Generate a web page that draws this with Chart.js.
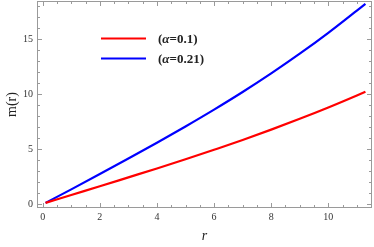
<!DOCTYPE html>
<html>
<head>
<meta charset="utf-8">
<script src="https://cdn.jsdelivr.net/npm/chart.js@4/dist/chart.umd.min.js"></script>
<style>
html,body{margin:0;padding:0;background:#fff;}
#wrap{width:374px;height:247px;position:relative;}
</style>
</head>
<body>
<div id="wrap"><canvas id="c" width="374" height="247"></canvas></div>
<script>
const rValues = [0.1, 1, 2, 3, 4, 5, 6, 7, 8, 9, 10, 11, 11.3];
const mAlpha01 = [0.1, 0.82, 1.61, 2.42, 3.23, 4.06, 4.93, 5.82, 6.76, 7.74, 8.77, 9.86, 10.2];
const mAlpha021 = [0.1, 1.33, 2.72, 4.13, 5.57, 7.05, 8.58, 10.18, 11.87, 13.66, 15.56, 17.58, 18.18];
const seriesLabels = ["(\u03b1=0.1)", "(\u03b1=0.21)"];
const xTicks = [0, 2, 4, 6, 8, 10];
const yTicks = [0, 5, 10, 15];
const xMinorStep = 0.5;
const yMinorStep = 1;

const serif = "'Liberation Serif', 'DejaVu Serif', serif";

function toPts(xs, ys){ return xs.map((x,i)=>({x:x, y:ys[i]})); }

const framePlugin = {
  id: 'frame',
  afterDatasetsDraw(chart){
    const ctx = chart.ctx, a = chart.chartArea;
    const xs = chart.scales.x, ys = chart.scales.y;
    ctx.save();
    ctx.strokeStyle = '#9a9a9a';
    ctx.lineWidth = 1;
    const L = Math.round(a.left)+0.5, R = Math.round(a.right)-0.5, T = Math.round(a.top)+0.5, B = Math.round(a.bottom)-0.5;
    ctx.strokeRect(L, T, R-L, B-T);
    ctx.beginPath();
    for (let v = Math.ceil(xs.min/xMinorStep)*xMinorStep; v <= xs.max+1e-9; v += xMinorStep){
      const px = Math.round(xs.getPixelForValue(v))+0.5;
      const major = xTicks.some(t=>Math.abs(t-v)<1e-6);
      const len = major ? 4.5 : 2.5;
      ctx.moveTo(px, B); ctx.lineTo(px, B-len);
      ctx.moveTo(px, T); ctx.lineTo(px, T+len);
    }
    for (let v = Math.ceil(ys.min/yMinorStep)*yMinorStep; v <= ys.max+1e-9; v += yMinorStep){
      const py = Math.round(ys.getPixelForValue(v))+0.5;
      const major = yTicks.some(t=>Math.abs(t-v)<1e-6);
      const len = major ? 4.5 : 2.5;
      ctx.moveTo(L, py); ctx.lineTo(L+len, py);
      ctx.moveTo(R, py); ctx.lineTo(R-len, py);
    }
    ctx.stroke();
    ctx.restore();
  }
};

const legendPlugin = {
  id: 'inlegend',
  afterDatasetsDraw(chart){
    const ctx = chart.ctx;
    ctx.save();
    chart.data.datasets.forEach((ds, i) => {
      const y = 38.5 + i*20;
      const x0 = 101, x1 = 146, tx = 158;
      ctx.strokeStyle = ds.borderColor;
      ctx.lineWidth = 2.2;
      ctx.beginPath(); ctx.moveTo(x0, y); ctx.lineTo(x1, y); ctx.stroke();
      ctx.fillStyle = '#222';
      ctx.textBaseline = 'middle';
      const lbl = ds.label;
      const parts = [[lbl.slice(0,1), 'bold 13px '+serif], [lbl.slice(1,2), 'italic bold 13px '+serif], [lbl.slice(2), 'bold 13px '+serif]];
      let cx = tx;
      parts.forEach(([t,f]) => { ctx.font = f; ctx.fillText(t, cx, y+1); cx += ctx.measureText(t).width; });
    });
    ctx.restore();
  }
};

new Chart(document.getElementById('c'), {
  type: 'line',
  data: {
    datasets: [
      { label: seriesLabels[0], data: toPts(rValues, mAlpha01), borderColor: '#ff0000', borderWidth: 2.2, pointRadius: 0, cubicInterpolationMode: 'monotone', fill: false },
      { label: seriesLabels[1], data: toPts(rValues, mAlpha021), borderColor: '#0000ff', borderWidth: 2.2, pointRadius: 0, cubicInterpolationMode: 'monotone', fill: false }
    ]
  },
  options: {
    responsive: false,
    animation: false,
    devicePixelRatio: 1,
    layout: { padding: { top: 1, right: 2, left: 0, bottom: 0 } },
    plugins: { legend: { display: false }, tooltip: { enabled: false } },
    scales: {
      x: {
        type: 'linear', min: -0.2, max: 11.53,
        grid: { display: false, drawTicks: false },
        border: { display: false },
        afterBuildTicks(s){ s.ticks = xTicks.map(v=>({value:v})); },
        afterFit(s){ s.height = 39; s.paddingLeft = 0; s.paddingRight = 0; },
        ticks: { padding: 3, color: '#333', font: { family: serif, size: 10 }, maxRotation: 0, autoSkip: false, callback: v => String(v) },
        title: { display: true, text: 'r', color: '#222', font: { family: serif, size: 14, style: 'italic' }, padding: { top: 0, bottom: 2 } }
      },
      y: {
        type: 'linear', min: -0.364, max: 18.45,
        grid: { display: false, drawTicks: false },
        border: { display: false },
        afterBuildTicks(s){ s.ticks = yTicks.map(v=>({value:v})); },
        afterFit(s){ s.width = 37; s.paddingTop = 0; s.paddingBottom = 0; },
        ticks: { padding: 4, color: '#333', font: { family: serif, size: 10 }, autoSkip: false, callback: v => String(v) },
        title: { display: true, text: 'm(r)', color: '#222', font: { family: serif, size: 14 }, padding: { top: 4, bottom: 0 } }
      }
    }
  },
  plugins: [framePlugin, legendPlugin]
});
</script>
</body>
</html>
